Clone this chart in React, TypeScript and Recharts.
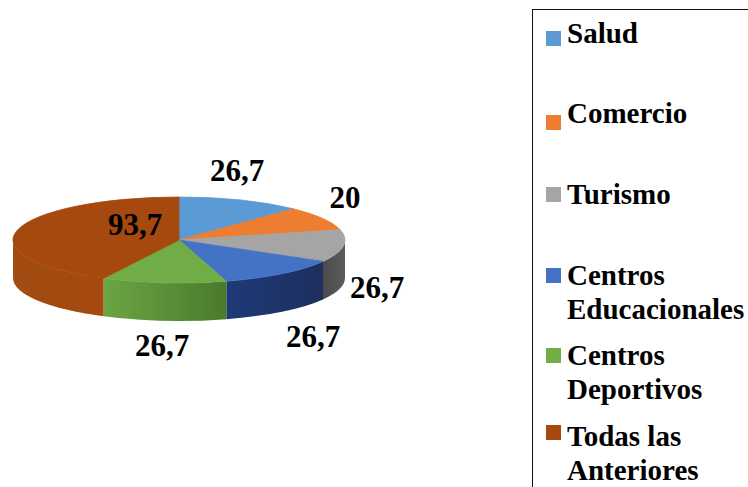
import { Legend, Pie, PieChart } from 'recharts'

const CATEGORIES = [
  'Salud',
  'Comercio',
  'Turismo',
  'Centros Educacionales',
  'Centros Deportivos',
  'Todas las Anteriores',
]
const VALUES = [26.7, 20, 26.7, 26.7, 26.7, 93.7]
const COLORS = ['#5b9bd5', '#ed7d31', '#a5a5a5', '#4472c4', '#70ad47', '#a5490f']
const WALL_LEFT = ['#2e5f8f', '#a5551f', '#4a4a4a', '#1f3a78', '#6ba544', '#a14c12']
const WALL_RIGHT = ['#2e5f8f', '#a5551f', '#5c5c5c', '#1d2f5e', '#4a7a2c', '#a5490f']

// label placement relative to the pie centre, same order as the slices
const LABEL_OFFSETS = [
  [58, -70],
  [166, -43],
  [198, 47],
  [134, 96],
  [-17, 105],
  [-44, -16],
]
const LEGEND_SWATCH_TOPS = [30, 114, 186, 267, 347, 424]
const LEGEND_TEXT_TOPS = [15, 95, 176, 257, 337, 418]

const CX = 179
const CY = 240
const RX = 166
const RY = 43
const DEPTH = 38
const FONT = '"Liberation Serif", serif'

const data = CATEGORIES.map((name, i) => ({ name, value: VALUES[i], fill: COLORS[i] }))

const pt = (deg: number, drop = 0) => {
  const a = (deg * Math.PI) / 180
  return `${(CX + RX * Math.cos(a)).toFixed(2)} ${(CY - RY * Math.sin(a) + drop).toFixed(2)}`
}

// squashes the sector the pie computed into an ellipse and adds the side wall
function Slice(props: any) {
  const { startAngle, endAngle, fill, index } = props
  const large = Math.abs(startAngle - endAngle) > 180 ? 1 : 0
  const hi = Math.min(startAngle, 0)
  const lo = Math.max(endAngle, -180)
  return (
    <g>
      {hi > lo && (
        <path
          d={`M ${pt(hi)} A ${RX} ${RY} 0 0 1 ${pt(lo)} L ${pt(lo, DEPTH)} A ${RX} ${RY} 0 0 0 ${pt(hi, DEPTH)} Z`}
          fill={`url(#wall-${index})`}
        />
      )}
      {/* same-colour stroke hides the antialiasing seam against the wall */}
      <path
        d={`M ${CX} ${CY} L ${pt(startAngle)} A ${RX} ${RY} 0 ${large} 1 ${pt(endAngle)} Z`}
        fill={fill}
        stroke={fill}
        strokeWidth={0.8}
      />
    </g>
  )
}

function renderLabel(props: any) {
  const i = props.index
  return (
    <text
      key={i}
      x={CX + LABEL_OFFSETS[i][0]}
      y={CY + LABEL_OFFSETS[i][1]}
      textAnchor="middle"
      dominantBaseline="central"
      fontFamily={FONT}
      fontWeight="bold"
      fontSize={31}
      fill="#000"
    >
      {String(VALUES[i]).replace('.', ',')}
    </text>
  )
}

function LegendBox({ payload }: any) {
  return (
    <div
      style={{
        position: 'relative',
        width: 216,
        height: 478,
        boxSizing: 'border-box',
        borderLeft: '1.5px solid #111',
        borderTop: '1.5px solid #111',
        overflow: 'hidden',
      }}
    >
      {(payload ?? []).map((entry: any, i: number) => (
        <div key={entry.value}>
          <div
            style={{
              position: 'absolute',
              left: 13,
              top: LEGEND_SWATCH_TOPS[i] - 9,
              width: 15,
              height: 15,
              background: COLORS[i],
            }}
          />
          <div
            style={{
              position: 'absolute',
              left: 34,
              top: LEGEND_TEXT_TOPS[i] - 9,
              width: 181,
              fontFamily: FONT,
              fontWeight: 'bold',
              fontSize: 29,
              lineHeight: '34px',
              color: '#000',
            }}
          >
            {entry.value}
          </div>
        </div>
      ))}
    </div>
  )
}

export default function App() {
  return (
    <div style={{ position: 'absolute', left: 0, top: 0, width: 748, height: 487, overflow: 'hidden' }}>
      <PieChart width={748} height={487} margin={{ top: 0, right: 0, bottom: 0, left: 0 }}>
        <defs>
          {WALL_LEFT.map((c, i) => (
            <linearGradient key={c} id={`wall-${i}`} x1="0" y1="0" x2="1" y2="0">
              <stop offset="0%" stopColor={c} />
              <stop offset="100%" stopColor={WALL_RIGHT[i]} />
            </linearGradient>
          ))}
        </defs>
        <Pie
          data={data}
          dataKey="value"
          nameKey="name"
          cx={CX}
          cy={CY}
          outerRadius={RX}
          startAngle={90}
          endAngle={-270}
          stroke="none"
          shape={Slice}
          label={renderLabel}
          labelLine={false}
          isAnimationActive={false}
        />
        <Legend
          content={LegendBox}
          itemSorter={null}
          wrapperStyle={{ position: 'absolute', left: 532, top: 9, width: 216, height: 478 }}
        />
      </PieChart>
    </div>
  )
}
